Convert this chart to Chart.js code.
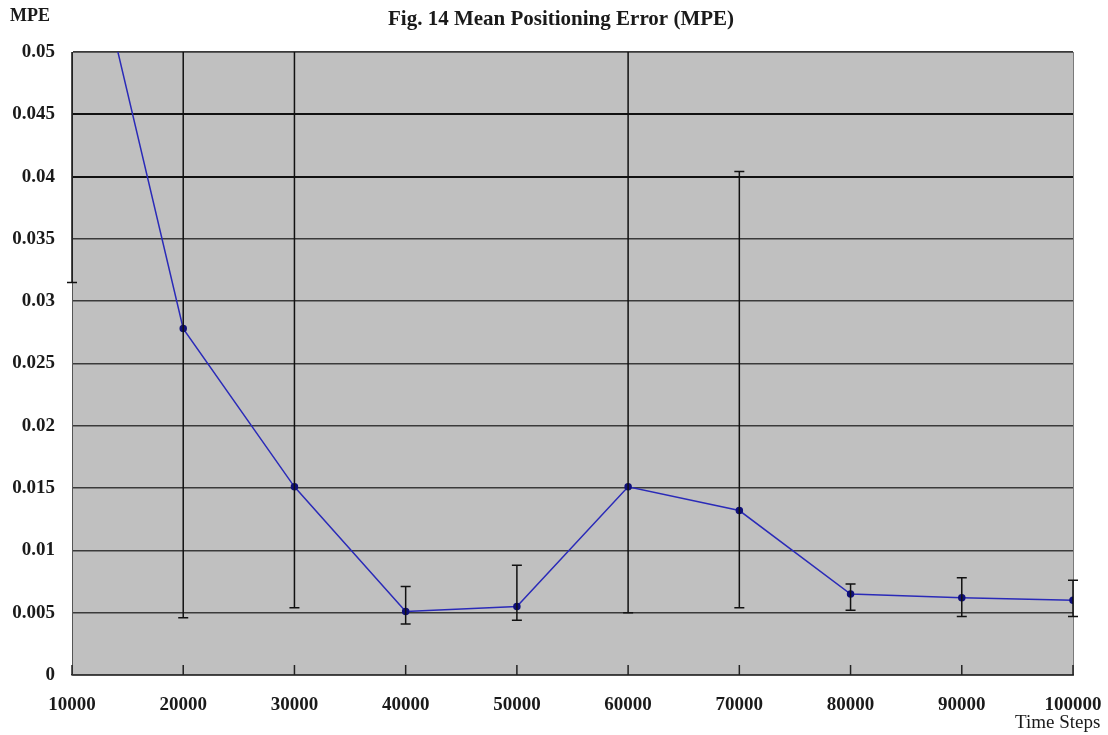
<!DOCTYPE html>
<html>
<head>
<meta charset="utf-8">
<script src="https://cdn.jsdelivr.net/npm/chart.js@4/dist/chart.umd.min.js"></script>
<style>
  body { margin: 0; background: #fff; }
  #wrap { width: 1108px; height: 735px; }
</style>
</head>
<body>
<div id="wrap"><canvas id="myChart" width="1108" height="735"></canvas></div>
<script>
// values
const timeSteps = [10000, 20000, 30000, 40000, 50000, 60000, 70000, 80000, 90000, 100000];
const mpe = [0.0656, 0.0278, 0.0151, 0.0051, 0.0055, 0.0151, 0.0132, 0.0065, 0.0062, 0.0060];
const errLow = [0.0315, 0.0046, 0.0054, 0.0041, 0.0044, 0.0050, 0.0054, 0.0052, 0.0047, 0.0047];
const errHigh = [0.0997, 0.0510, 0.0550, 0.0071, 0.0088, 0.0550, 0.0404, 0.0073, 0.0078, 0.0076];
const yTicks = [0, 0.005, 0.01, 0.015, 0.02, 0.025, 0.03, 0.035, 0.04, 0.045, 0.05];

const serif = '"Liberation Serif", "DejaVu Serif", serif';

const plotBackground = {
  id: 'plotBackground',
  beforeDraw(chart) {
    const { ctx, chartArea: a } = chart;
    ctx.save();
    ctx.fillStyle = '#c0c0c0';
    ctx.fillRect(a.left, a.top, a.right - a.left, a.bottom - a.top);
    ctx.strokeStyle = '#7a7a7a';
    ctx.lineWidth = 1;
    ctx.strokeRect(a.left + 0.5, a.top + 0.5, a.right - a.left, a.bottom - a.top);
    ctx.restore();
  }
};

// error bars drawn through the chart's own scales
const errorBars = {
  id: 'errorBars',
  afterDatasetsDraw(chart) {
    const { ctx, chartArea: a, scales } = chart;
    ctx.save();
    ctx.beginPath();
    ctx.rect(a.left - 6, a.top, a.right - a.left + 12, a.bottom - a.top);
    ctx.clip();
    ctx.strokeStyle = '#111';
    ctx.lineWidth = 1.5;
    timeSteps.forEach((t, i) => {
      const x = scales.x.getPixelForValue(t);
      const yl = scales.y.getPixelForValue(errLow[i]);
      const yh = scales.y.getPixelForValue(errHigh[i]);
      ctx.beginPath();
      ctx.moveTo(x, yl);
      ctx.lineTo(x, yh);
      ctx.moveTo(x - 5, yl);
      ctx.lineTo(x + 5, yl);
      ctx.moveTo(x - 5, yh);
      ctx.lineTo(x + 5, yh);
      ctx.stroke();
    });
    ctx.restore();
  },
  afterDraw(chart) {
    const { ctx, chartArea: a, scales } = chart;
    ctx.save();
    // small tick marks along the bottom
    ctx.strokeStyle = '#222';
    ctx.lineWidth = 1.5;
    scales.x.ticks.forEach(tk => {
      const x = scales.x.getPixelForValue(tk.value);
      ctx.beginPath();
      ctx.moveTo(x, a.bottom);
      ctx.lineTo(x, a.bottom - 10);
      ctx.stroke();
    });
    ctx.fillStyle = '#1a1a1a';
    ctx.font = 'bold 21px ' + serif;
    ctx.textAlign = 'center';
    ctx.textBaseline = 'middle';
    ctx.fillText('Fig. 14 Mean Positioning Error (MPE)', 561, 20);
    ctx.font = 'bold 18px ' + serif;
    ctx.textAlign = 'left';
    ctx.fillText('MPE', 10, 16);
    ctx.font = '19px ' + serif;
    ctx.fillText('Time Steps', 1015, 723);
    ctx.restore();
  }
};

const ctx = document.getElementById('myChart').getContext('2d');
const myChart = new Chart(ctx, {
  type: 'line',
  data: {
    datasets: [{
      label: 'MPE',
      data: timeSteps.map((t, i) => ({ x: t, y: mpe[i] })),
      borderColor: '#2a2ab8',
      borderWidth: 1.5,
      backgroundColor: '#10107a',
      pointBackgroundColor: '#10107a',
      pointBorderColor: '#10107a',
      pointRadius: 3,
      tension: 0
    }]
  },
  options: {
    responsive: false,
    animation: false,
    layout: { padding: { top: 52, right: 35, left: 0, bottom: 0 } },
    plugins: {
      legend: { display: false },
      tooltip: { enabled: false }
    },
    scales: {
      x: {
        type: 'linear',
        min: 10000,
        max: 100000,
        afterFit(scale) {
          scale.height = 60;
          scale.paddingLeft = 0;
          scale.paddingRight = 0;
        },
        afterBuildTicks(scale) { scale.ticks = timeSteps.map(v => ({ value: v })); },
        grid: { display: false, drawTicks: false },
        border: { display: true, color: '#3a3a3a', width: 1.5 },
        ticks: {
          padding: 19,
          color: '#1a1a1a',
          font: { family: serif, size: 19, weight: 'bold' },
          maxRotation: 0,
          callback: v => String(v)
        }
      },
      y: {
        min: 0,
        max: 0.05,
        afterFit(scale) {
          scale.width = 72;
          scale.paddingTop = 0;
          scale.paddingBottom = 0;
        },
        afterBuildTicks(scale) { scale.ticks = yTicks.map(v => ({ value: v })); },
        grid: {
          drawTicks: false,
          color: ctx => (ctx.tick && (ctx.tick.value > 0.039 && ctx.tick.value < 0.046)) ? '#111' : '#3a3a3a',
          lineWidth: ctx => (ctx.tick && (ctx.tick.value > 0.039 && ctx.tick.value < 0.046)) ? 2 : 1.5
        },
        border: { display: true, color: '#555', width: 1 },
        ticks: {
          padding: 17,
          color: '#1a1a1a',
          font: { family: serif, size: 19, weight: 'bold' },
          callback: v => String(Number(v.toFixed(3)))
        }
      }
    }
  },
  plugins: [plotBackground, errorBars]
});
</script>
</body>
</html>
